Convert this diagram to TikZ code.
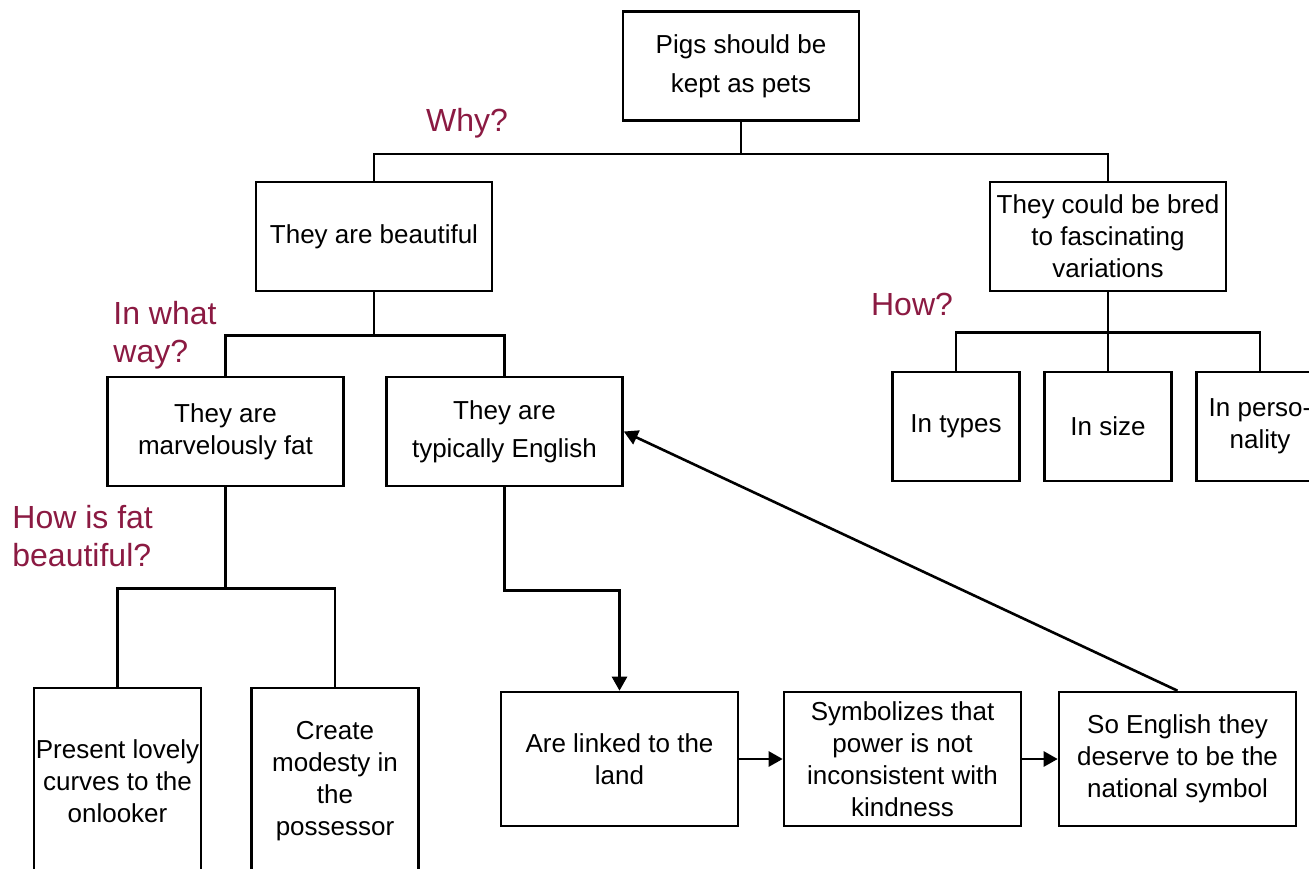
\documentclass[tikz,border=0pt]{standalone}
\usepackage{fontspec}
\setmainfont{Liberation Sans}
\usepackage{xcolor}
\usepackage{tikz}
\usetikzlibrary{arrows.meta, positioning}

\definecolor{askcolor}{HTML}{8B1A42}

\begin{document}
\begin{tikzpicture}[
    x=0.5pt, y=-0.5pt,
    node distance=21pt and 11.2pt,
    box/.style={rectangle, draw, line width=1.3pt, minimum height=54.5pt, minimum width=118pt, inner sep=0pt, align=center, font=\fontsize{13}{16}\selectfont},
    smallbox/.style={box, minimum width=63.5pt},
    tallbox/.style={box, minimum width=83.5pt, minimum height=93pt},
    rowbox/.style={box, minimum height=67pt, minimum width=118.5pt},
    ask/.style={text=askcolor, inner sep=0pt, align=left, font=\fontsize{16}{19}\selectfont},
    link/.style={line width=1.3pt},
    arrow/.style={-{Triangle[length=7pt, width=7.5pt]}, line width=1.3pt}
]
\useasboundingbox (0,0) rectangle (1309,868);
\clip (0,0) rectangle (1309,868);

% top of the tree
\node[box, font=\fontsize{13}{19.5}\selectfont] (pigs) at (741,66) {Pigs should be\\kept as pets};
\node[box] (beautiful) at (374,236.5) {They are beautiful};
\node[box] (bred) at (1108,236.5) {They could be bred\\to fascinating\\variations};

% why they are beautiful
\node[box] (fat) at (225.5,431.5) {They are\\marvelously fat};
\node[box, font=\fontsize{13}{19}\selectfont] (english) at (504.5,431.5) {They are\\typically English};
\node[tallbox] (lovely) at (117.5,781) {Present lovely\\curves to the\\onlooker};
\node[tallbox] (modesty) at (335,781) {Create\\modesty in\\the\\possessor};

% english chain
\node[rowbox] (linked) at (619.5,759) {Are linked to the\\land};
\node[rowbox, right=21.7pt of linked] (symbolizes) {Symbolizes that\\power is not\\inconsistent with\\kindness};
\node[rowbox, right=17.7pt of symbolizes] (national) {So English they\\deserve to be the\\national symbol};

% how they are bred
\node[smallbox] (size) at (1108,426.5) {In size};
\node[smallbox, left=of size] (types) {In types};
\node[smallbox, right=of size] (personality) {In perso-\\nality};

% questions
\node[ask] (why) at (467,123) {Why?};
\node[ask, anchor=west] (whatway) at (113,335) {In what\\way?};
\node[ask, anchor=west] (howfat) at (12,536) {How is fat\\beautiful?};
\node[ask] (how) at (912,304) {How?};

\draw[link] (pigs.south) -- ++(0,32) -| (beautiful.north);
\draw[link] (pigs.south) -- ++(0,32) -| (bred.north);
\draw[link] (beautiful.south) -- ++(0,43) -| (fat.north);
\draw[link] (beautiful.south) -- ++(0,43) -| (english.north);
\draw[link] (fat.south) -- ++(0,101) -| (lovely.north);
\draw[link] (fat.south) -- ++(0,101) -| (modesty.north);
\draw[link] (bred.south) -- ++(0,40) -| (types.north);
\draw[link] (bred.south) -- (size.north);
\draw[link] (bred.south) -- ++(0,40) -| (personality.north);

\draw[arrow] (english.south) -- ++(0,103) -| (linked.north);
\draw[arrow] (linked) -- (symbolizes);
\draw[arrow] (symbolizes) -- (national);
\draw[arrow] (national.north) -- (english.east);
\end{tikzpicture}
\end{document}
